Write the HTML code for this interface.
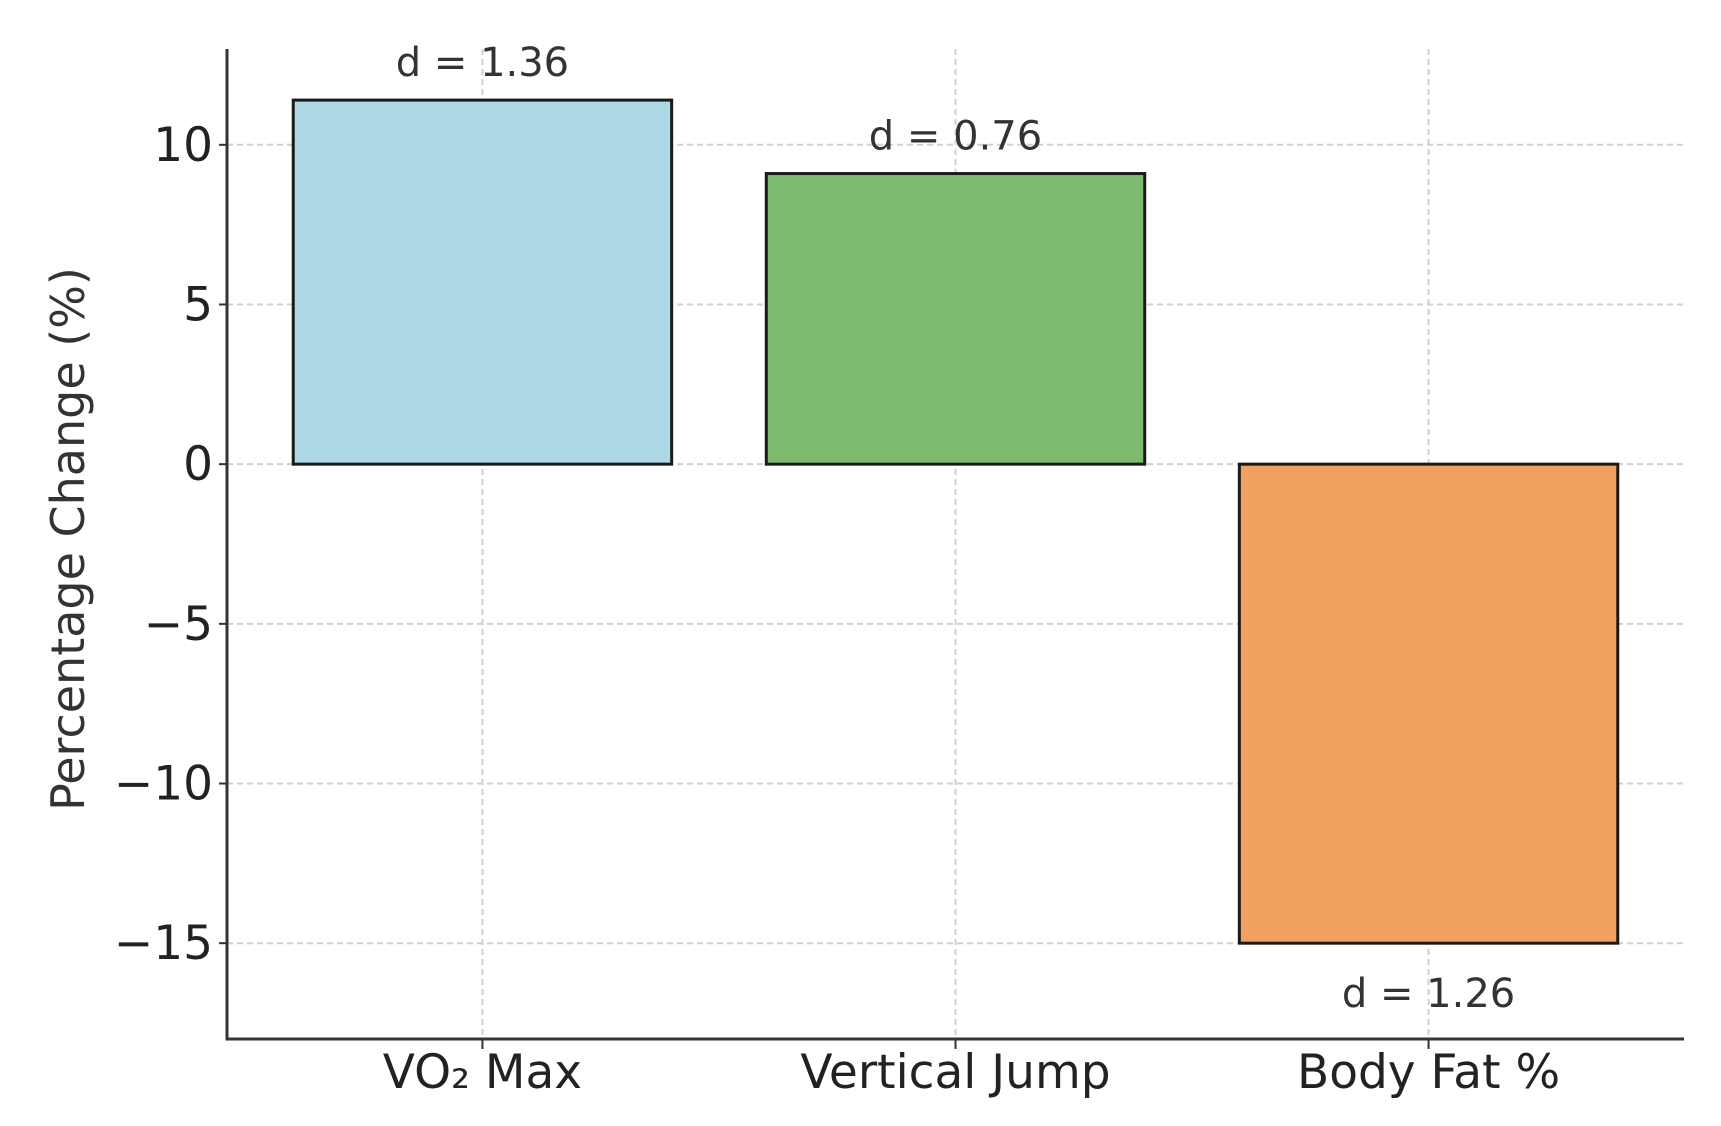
<!DOCTYPE html>
<html><head><meta charset="utf-8"><style>
body{margin:0;background:#fff}
svg{display:block;font-family:"DejaVu Sans","Liberation Sans",sans-serif}
</style></head><body>
<svg id="chart" width="1721" height="1126" xmlns="http://www.w3.org/2000/svg"></svg>
<script>
const categories = ["VO₂ Max", "Vertical Jump", "Body Fat %"];
const values = [11.4, 9.1, -15.0];
const effectLabels = ["d = 1.36", "d = 0.76", "d = 1.26"];
const colors = ["#add8e6", "#7fbb6f", "#f2a05e"];
const yTicks = [10, 5, 0, -5, -10, -15];
const yTickLabels = ["10", "5", "0", "−5", "−10", "−15"];

const NS = "http://www.w3.org/2000/svg";
const svg = document.getElementById("chart");
const L = 227, R = 1684, T = 49, B = 1039;
const yMin = -18, yMax = 13, xMin = -0.54, xMax = 2.54;
const y = v => B - (v - yMin) / (yMax - yMin) * (B - T);
const x = i => L + (i - xMin) / (xMax - xMin) * (R - L);
const bw = 0.8 * (x(1) - x(0));
function mk(tag, attrs, parent) {
  const e = document.createElementNS(NS, tag);
  for (const k in attrs) e.setAttribute(k, attrs[k]);
  (parent || svg).appendChild(e);
  return e;
}
yTicks.forEach((t, i) => {
  const g = mk("line", {x1: L, x2: R, y1: y(t), y2: y(t), stroke: "#d0d0d0", "stroke-width": 2, "stroke-dasharray": "6,4"});
  
  
});
categories.forEach((c, i) => {
  const g = mk("line", {x1: x(i), x2: x(i), y1: T, y2: B, stroke: "#d0d0d0", "stroke-width": 2, "stroke-dasharray": "6,4"});
  
  
});
values.forEach((v, i) => {
  const top = y(Math.max(v, 0)), bot = y(Math.min(v, 0));
  const r = mk("rect", {x: x(i) - bw / 2, y: top, width: bw, height: bot - top, fill: colors[i], stroke: "#1a1a1a", "stroke-width": 3});
  
  
  const ly = v >= 0 ? y(v) - 24 : y(v) + 64;
  const t = mk("text", {x: x(i), y: ly, "text-anchor": "middle", "font-size": 40, fill: "#333"});
  t.textContent = effectLabels[i];
  
  
});
const ax = mk("path", {d: `M${L},${T}V${B}H${R}`, fill: "none", stroke: "#333", "stroke-width": 3});


yTicks.forEach((t, i) => {
  mk("line", {x1: L - 8, x2: L, y1: y(t), y2: y(t), stroke: "#333", "stroke-width": 2});
  const tx = mk("text", {x: L - 14, y: y(t) + 16, "text-anchor": "end", "font-size": 47, fill: "#222"});
  tx.textContent = yTickLabels[i];
  
  
});
categories.forEach((c, i) => {
  mk("line", {x1: x(i), x2: x(i), y1: B, y2: B + 10, stroke: "#333", "stroke-width": 2});
  const tx = mk("text", {x: x(i), y: B + 49, "text-anchor": "middle", "font-size": 47, fill: "#222"});
  tx.textContent = c;
  
  
});
const yt = mk("text", {x: 0, y: 0, "text-anchor": "middle", "font-size": 46, fill: "#333", transform: `translate(84,${(T + B) / 2 - 5}) rotate(-90)`});
yt.textContent = "Percentage Change (%)";


</script>
</body></html>
